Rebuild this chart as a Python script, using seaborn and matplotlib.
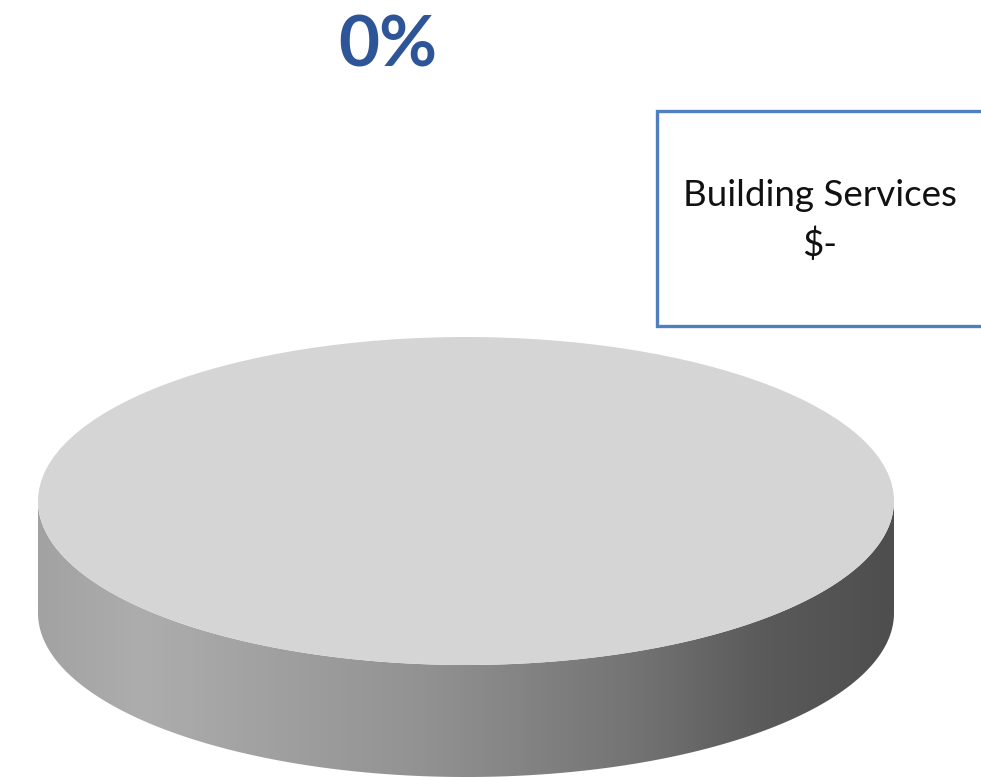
import numpy as np
import matplotlib
matplotlib.use("Agg")
import matplotlib.pyplot as plt
import seaborn as sns
from matplotlib.patches import Wedge, Rectangle, Polygon
from matplotlib.transforms import Affine2D
from matplotlib.colors import LinearSegmentedColormap

# chart data
categories = ["Building Services"]
values = [0.0]
value_labels = ["$-"]
title_text = "0%"

sns.set_style("white")
plt.rcParams["font.family"] = ["Lato", "DejaVu Sans"]

fig = plt.figure(figsize=(9.81, 7.77), dpi=100)
ax = fig.add_axes([0, 0, 1, 1])
ax.set_xlim(0, 981)
ax.set_ylim(777, 0)
ax.axis("off")

# pie geometry (pixels)
cx, cy = 466, 501
a, b = 428, 164
depth = 112

total = sum(values)
if total > 0:
    fracs = np.array(values) / total
else:
    fracs = np.ones(len(values)) / len(values)
spans = 360 * fracs
starts = np.concatenate([[0], np.cumsum(spans)[:-1]])

ell = Affine2D().scale(a, b).translate(cx, cy) + ax.transData

# side wall with left-to-right shading
t = np.linspace(np.pi, 0, 300)
top_x = cx + a * np.cos(t)
top_y = cy + b * np.sin(t)
poly_pts = np.vstack([np.column_stack([top_x, top_y]),
                      np.column_stack([top_x[::-1], top_y[::-1] + depth])])
wall = Polygon(poly_pts, closed=True, facecolor="none", edgecolor="none")
ax.add_patch(wall)
side_cmap = LinearSegmentedColormap.from_list(
    "side", [(0, "#a2a2a2"), (0.12, "#adadad"), (0.45, "#929292"),
             (0.7, "#737373"), (0.85, "#5a5a5a"), (1, "#4e4e4e")])
grad = np.linspace(0, 1, 512).reshape(1, -1)
img = ax.imshow(grad, cmap=side_cmap, aspect="auto",
                extent=[cx - a, cx + a, cy + b + depth, cy], zorder=1)
img.set_clip_path(wall)

# top face
for s, sp in zip(starts, spans):
    w = Wedge((0, 0), 1, s, s + sp, facecolor="#d5d5d5", edgecolor="none",
              transform=ell, zorder=2)
    ax.add_patch(w)

# title
ax.text(388, 46, title_text, ha="center", va="center", fontsize=51,
        fontweight="bold", color="#2e5597")

# data label box
box = Rectangle((657, 111), 340, 215, facecolor="white", edgecolor="#4f7fc0",
                linewidth=2.4, zorder=3)
ax.add_patch(box)
ax.text(820, 196, categories[0], ha="center", va="center", fontsize=26.5,
        color="#111111", zorder=4)
ax.text(820, 245, value_labels[0], ha="center", va="center", fontsize=26.5,
        color="#111111", zorder=4)

fig.savefig("out.png", dpi=100, facecolor="white")
